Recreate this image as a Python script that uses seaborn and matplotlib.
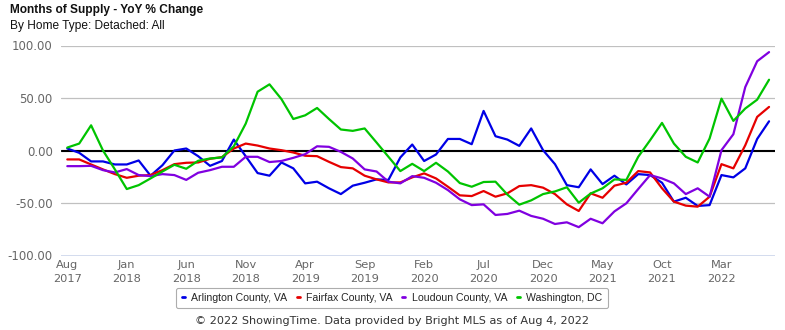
import matplotlib
matplotlib.use("Agg")
import matplotlib.pyplot as plt
import seaborn as sns
import pandas as pd
import numpy as np
from matplotlib.lines import Line2D

months = pd.date_range("2017-08-01", "2022-07-01", freq="MS")

arlington = [1.9, -2.2, -10.4, -10.4, -13.3, -13.3, -9.5, -24, -14, 0, 1.9, -5.4, -14.6, -10, 10.4,
             -5.5, -21.5, -24, -11.4, -17, -31.3, -29.7, -36, -41.5, -33.5, -30.7, -27.5, -28, -6.6, 5.7,
             -10, -3.8, 11, 11, 6, 37.7, 13.6, 10.4, 4.4, 21, 0.3, -13, -33, -35, -18,
             -32, -24, -32.3, -22.5, -23.4, -30.7, -48.7, -45, -52.8, -52, -23.4, -25.6, -17, 11, 27.8]
fairfax = [-8.5, -8.5, -13.3, -18, -22.5, -26, -24, -23.4, -18.7, -13, -11.7, -11.4, -7.9, -6.3, 1.9,
           6.6, 4.7, 1.9, 0.3, -1.9, -5, -5.4, -10.8, -15.8, -17, -24, -27.5, -30.4, -30.4, -25.6,
           -21.8, -26.6, -34.5, -42.7, -43.4, -38.6, -44, -40.8, -33.9, -33, -35.4, -41.5, -51.3, -57.6, -40.8,
           -45, -33.5, -30.7, -19.6, -20.9, -36, -48.7, -52.5, -53.5, -44, -13, -17, 5, 32, 41.5]
loudoun = [-14.9, -14.9, -14.6, -18.7, -20.9, -17.7, -23.4, -24.4, -22.5, -23.4, -28, -21.2, -18.7, -15.5, -15.5,
           -6, -6, -11, -10, -7, -3.5, 4, 3.5, -1.3, -7.6, -18, -20, -29.7, -31.3, -24.4,
           -26, -30.7, -37.7, -46.5, -52, -51.3, -61.4, -60.4, -57.3, -62.3, -65, -70, -68.4, -73, -65,
           -69.3, -58, -50.3, -36.7, -23.4, -26.6, -31.3, -41.5, -36, -44, 0.3, 15.5, 60.4, 85, 93.7]
washington = [2.8, 6.6, 24, 0, -18, -36.7, -33, -26.6, -20, -13.6, -17.4, -9.8, -7.6, -6.6, 4,
              25.6, 56, 63, 49, 30, 33.5, 40.5, 30, 20, 18.7, 21, 7.6, -6, -19.6, -12.7,
              -19.6, -11.7, -20, -31, -34.5, -30, -29.7, -42, -51.6, -47.5, -41.5, -39, -35, -49.7, -41,
              -36, -27.5, -28, -6, 9.8, 26.3, 6.6, -6, -11.4, 11.4, 49.4, 28.2, 40, 48.4, 67.4]

series_names = ["Arlington County, VA", "Fairfax County, VA", "Loudoun County, VA", "Washington, DC"]
colors = ["#0000e6", "#e60000", "#8000e0", "#00c400"]

records = []
for name, vals in zip(series_names, [arlington, fairfax, loudoun, washington]):
    for i, v in enumerate(vals):
        records.append({"idx": i, "value": v, "series": name})
df = pd.DataFrame(records)

tick_idx = list(range(0, 60, 5))
tick_labels = [f"{months[i].strftime('%b')}\n{months[i].year}" for i in tick_idx]

sns.set_style("white")
plt.rcParams["font.family"] = ["Liberation Sans", "DejaVu Sans"]

fig = plt.figure(figsize=(7.85, 3.30), dpi=100)
ax = fig.add_axes([61 / 785, 1 - 255.5 / 330, (775 - 61) / 785, (255.5 - 45.5) / 330])

for y in [-50, 50, 100]:
    ax.axhline(y, color="#c0c0c0", lw=0.9, zorder=0)
ax.axhline(-100, color="#ccd6eb", lw=1.2, zorder=0)
ax.axhline(0.8, color="black", lw=0.8, zorder=1)
ax.axhline(-0.8, color="black", lw=0.8, zorder=1)

sns.lineplot(data=df, x="idx", y="value", hue="series", palette=colors,
             hue_order=series_names, lw=1.6, ax=ax, legend=False, zorder=3)

ax.set_xlim(-0.53, 59.5)
ax.set_ylim(-100, 100)
ax.set_yticks([-100, -50, 0, 50, 100])
ax.set_yticklabels([f"{v:.2f}" for v in [-100, -50, 0, 50, 100]],
                   fontfamily="DejaVu Sans", fontsize=8.5, color="#666666")
ax.set_xticks(tick_idx)
ax.set_xticklabels(tick_labels, fontfamily="DejaVu Sans", fontsize=8.2, color="#666666",
                   linespacing=1.5)
ax.tick_params(axis="both", length=0, pad=6)
ax.tick_params(axis="x", pad=3)
ax.set_xlabel("")
ax.set_ylabel("")
for s in ax.spines.values():
    s.set_visible(False)

fig.text(10 / 785, 1 - 10 / 330, "Months of Supply - YoY % Change", fontsize=8.6,
         fontweight="bold", ha="left", va="center", color="#111111")
fig.text(10 / 785, 1 - 26 / 330, "By Home Type: Detached: All", fontsize=8.6,
         ha="left", va="center", color="#111111")

handles = [Line2D([], [], color=c, lw=2) for c in colors]
leg = fig.legend(handles, series_names, loc="center", bbox_to_anchor=(392 / 785, 1 - 298 / 330),
                 ncol=4, fontsize=7.6, handlelength=0.3, handletextpad=0.6, columnspacing=0.9,
                 frameon=True, fancybox=True, borderpad=0.5)
leg.get_frame().set_edgecolor("#999999")
leg.get_frame().set_linewidth(0.8)

fig.text(392 / 785, 1 - 321 / 330, "© 2022 ShowingTime. Data provided by Bright MLS as of Aug 4, 2022",
         fontfamily="DejaVu Sans", fontsize=8.1, ha="center", va="center", color="#333333")

fig.savefig("out.png", dpi=100)
